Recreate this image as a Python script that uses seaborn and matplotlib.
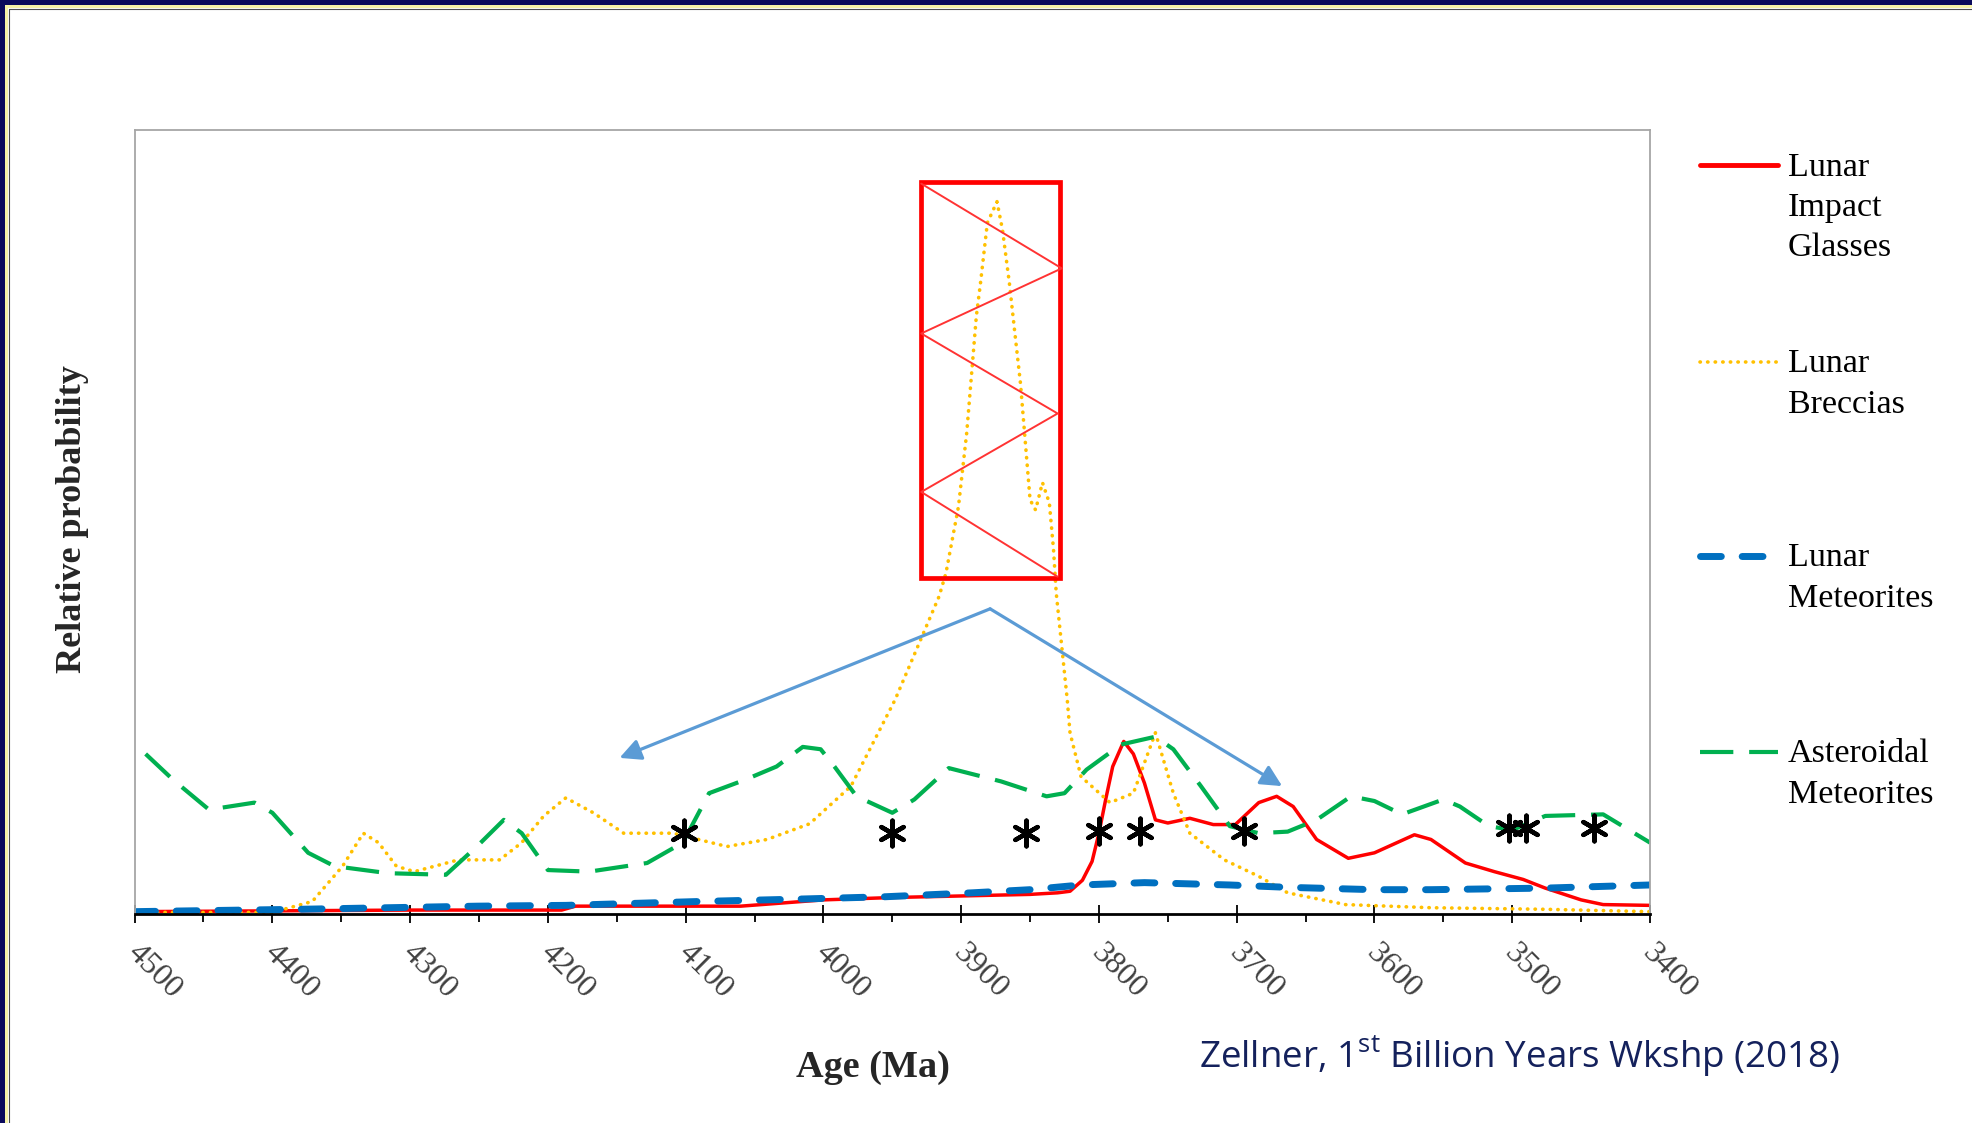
import seaborn as sns
import matplotlib.pyplot as plt
from matplotlib.lines import Line2D
from matplotlib.patches import Rectangle
from matplotlib.ticker import MultipleLocator
from matplotlib.transforms import ScaledTranslation

# ===== data: age (Ma) vs relative probability (arbitrary 0-100 scale) =====
glass_age = [4500, 4400, 4300, 4190, 4180, 4060, 4000, 3950, 3900, 3850, 3830, 3821,
             3812, 3805, 3800, 3795, 3790, 3782, 3775, 3767, 3759, 3750, 3734, 3717,
             3701, 3684, 3671, 3659, 3642, 3619, 3600, 3571, 3559, 3534, 3513, 3492,
             3476, 3450, 3434, 3400]
glass_prob = [0.3, 0.4, 0.5, 0.5, 1.0, 1.0, 1.8, 2.1, 2.3, 2.5, 2.7, 2.9,
              4.3, 6.7, 10.3, 14.7, 18.8, 22.0, 20.4, 16.7, 12.0, 11.6, 12.2, 11.4,
              11.4, 14.2, 15.0, 13.7, 9.5, 7.1, 7.8, 10.1, 9.5, 6.5, 5.4, 4.4,
              3.3, 1.8, 1.2, 1.1]

breccia_age = [4500, 4400, 4371, 4349, 4334, 4323, 4310, 4297, 4265, 4235, 4219, 4203,
               4187, 4167, 4145, 4109, 4070, 4041, 4010, 3980, 3948, 3916, 3911, 3902,
               3896, 3892, 3889, 3886, 3881, 3874, 3870, 3865, 3861, 3857, 3853, 3850,
               3846, 3841, 3836, 3833, 3831, 3823, 3821, 3813, 3792, 3775, 3759, 3746,
               3734, 3709, 3684, 3663, 3621, 3559, 3476, 3400]
breccia_prob = [0.2, 0.2, 1.6, 6.1, 10.3, 9.1, 6.1, 5.4, 6.9, 6.9, 9.1, 12.5,
                14.8, 12.9, 10.3, 10.3, 8.6, 9.5, 11.5, 16.3, 27.3, 40.5, 43.5, 51.9,
                61.3, 69.8, 76.2, 80.4, 88.1, 90.8, 87.2, 80.4, 74.0, 67.7, 59.2, 52.8,
                51.5, 55.0, 52.4, 46.5, 40.9, 27.3, 23.1, 17.5, 14.2, 15.4, 23.1, 15.4,
                10.3, 6.9, 4.8, 2.7, 1.2, 0.8, 0.6, 0.3]

lunmet_age = [4500, 4381, 4251, 4187, 4089, 4018, 3955, 3892, 3850, 3813, 3767, 3705,
              3663, 3600, 3559, 3476, 3400]
lunmet_prob = [0.3, 0.6, 1.0, 1.1, 1.6, 1.9, 2.2, 2.7, 3.1, 3.7, 4.0, 3.7,
               3.4, 3.1, 3.1, 3.3, 3.7]

astmet_age = [4492, 4472, 4446, 4413, 4400, 4374, 4355, 4316, 4274, 4251, 4232, 4219,
              4200, 4170, 4128, 4102, 4083, 4057, 4034, 4015, 4002, 3992, 3976, 3950,
              3934, 3909, 3871, 3838, 3825, 3809, 3784, 3759, 3746, 3726, 3705, 3684,
              3663, 3642, 3617, 3600, 3580, 3550, 3538, 3517, 3500, 3476, 3434, 3400]
astmet_prob = [20.4, 17.1, 13.3, 14.2, 12.9, 7.8, 6.1, 5.2, 5.0, 8.7, 12.0, 10.3,
               5.6, 5.4, 6.5, 9.1, 15.4, 17.1, 18.8, 21.3, 21.0, 18.8, 15.0, 12.9,
               14.6, 18.6, 16.9, 15.0, 15.4, 18.4, 21.6, 22.6, 21.0, 16.3, 11.2, 10.3,
               10.5, 12.0, 15.0, 14.4, 12.7, 14.6, 13.7, 11.2, 10.7, 12.5, 12.7, 9.1]

star_age = [4101, 3950, 3853, 3800, 3770, 3695, 3502, 3490, 3441]
star_prob = [10.3, 10.3, 10.3, 10.6, 10.6, 10.6, 10.9, 10.9, 10.9]

labels = ["Lunar\nImpact\nGlasses", "Lunar\nBreccias", "Lunar\nMeteorites",
          "Asteroidal\nMeteorites"]
tick_ages = [4500, 4400, 4300, 4200, 4100, 4000, 3900, 3800, 3700, 3600, 3500, 3400]
tick_labels = [str(a) for a in tick_ages]

# annotation overlay (box with zigzag, arrows)
box_age = [3929, 3828]
box_prob = [42.8, 93.3]
zig_age = [3929, 3827, 3929, 3830, 3929, 3830]
zig_prob = [93.1, 82.3, 74.0, 63.8, 53.8, 43.0]
arrow_from = (3879, 38.9)
arrow_to = [(4148, 19.9), (3667, 16.3)]

# ===== style =====
sns.set_style("white")
plt.rcParams['font.family'] = ['Liberation Serif', 'DejaVu Serif']
plt.rcParams['mathtext.fontset'] = 'custom'
plt.rcParams['mathtext.rm'] = 'Open Sans'

W, H = 1972, 1123
fig = plt.figure(figsize=(W / 100, H / 100), dpi=100)
ax = fig.add_axes([134.6 / W, 1 - 914 / H, (1650 - 134.6) / W, (914 - 129.5) / H])

styles = [
    dict(color="#ff0000", lw=2.5, linestyle="-"),
    dict(color="#ffc000", lw=2.6, linestyle=(0, (0.1, 2.0)), dash_capstyle="round"),
    dict(color="#0070c0", lw=5.0, linestyle=(0, (3, 3)), dash_capstyle="round"),
    dict(color="#00b050", lw=3.0, linestyle=(0, (8, 3.8))),
]
series = [(glass_age, glass_prob), (breccia_age, breccia_prob),
          (lunmet_age, lunmet_prob), (astmet_age, astmet_prob)]

for (xs, ys), st in zip(series, styles):
    sns.lineplot(x=xs, y=ys, ax=ax, estimator=None, sort=False, **st)

sns.scatterplot(x=star_age, y=star_prob, ax=ax, marker=(6, 2, 0), s=340,
                color="black", edgecolor="black", linewidth=3.2, zorder=5)

# red box with zigzag
ax.add_patch(Rectangle((box_age[0], box_prob[0]), box_age[1] - box_age[0],
                       box_prob[1] - box_prob[0], fill=False, ec="#ff0000",
                       lw=3.4, zorder=6))
ax.plot(zig_age, zig_prob, color="#ff3333", lw=1.4, zorder=6)

# blue arrows
for end in arrow_to:
    ax.annotate("", xy=end, xytext=arrow_from,
                arrowprops=dict(arrowstyle="-|>", color="#5b9bd5", lw=2.3,
                                mutation_scale=32, shrinkA=0, shrinkB=0), zorder=6)

ax.set_xlim(4500, 3400)
ax.set_ylim(0, 100)
ax.set_yticks([])
ax.set_xticks(tick_ages)
ax.set_xticklabels(tick_labels)
ax.xaxis.set_minor_locator(MultipleLocator(50))
ax.tick_params(axis="x", which="major", direction="inout", length=13, width=1.3,
               color="black", labelsize=23, labelcolor="#404040", pad=11, bottom=True)
ax.tick_params(axis="x", which="minor", direction="out", length=6, width=1.3,
               color="black", bottom=True)
shift = ScaledTranslation(5 / 72, 0, fig.dpi_scale_trans)
for lab in ax.get_xticklabels():
    lab.set_rotation(-45)
    lab.set_ha("left")
    lab.set_va("top")
    lab.set_rotation_mode("anchor")
    lab.set_transform(lab.get_transform() + shift)

for side in ["top", "right", "left"]:
    ax.spines[side].set_color("#a6a6a6")
    ax.spines[side].set_linewidth(1.3)
ax.spines["bottom"].set_color("black")
ax.spines["bottom"].set_linewidth(2.0)

ax.set_xlabel("Age (Ma)", fontsize=27.5, fontweight="bold", va="baseline")
ax.xaxis.set_label_coords(0.487, -0.208)
ax.set_ylabel("Relative probability", fontsize=26, fontweight="bold", va="center")
ax.yaxis.set_label_coords(-0.041, 0.503)

# legend drawn at right, handle aligned with first text line
leg_y = [165, 362, 556, 752]
for label, st, yy in zip(labels, styles, leg_y):
    fy = 1 - yy / H
    st_leg = dict(st)
    if st_leg["linestyle"] == "-":
        st_leg["lw"] = 3.5
    fig.add_artist(Line2D([1700 / W, 1778 / W], [fy, fy], transform=fig.transFigure,
                          **st_leg))
    fig.text(1788 / W, 1 - (yy - 13) / H, label, fontsize=24.5, va="top", ha="left",
             linespacing=1.42, color="black")

# slide border (top and left)
navy, pale = "#0b0b5c", "#f7f3a6"
fig.add_artist(Rectangle((0, 1 - 5 / H), 1, 5 / H, transform=fig.transFigure,
                         color=navy, lw=0))
fig.add_artist(Rectangle((0, 0), 5 / W, 1, transform=fig.transFigure,
                         color=navy, lw=0))
fig.add_artist(Rectangle((5 / W, 1 - 8 / H), 1, 3 / H, transform=fig.transFigure,
                         color=pale, lw=0))
fig.add_artist(Rectangle((5 / W, 0), 3 / W, 1 - 5 / H, transform=fig.transFigure,
                         color=pale, lw=0))
fig.add_artist(Line2D([8.5 / W, 1], [1 - 8.5 / H, 1 - 8.5 / H], transform=fig.transFigure,
                      color="#505050", lw=0.8))
fig.add_artist(Line2D([8.5 / W, 8.5 / W], [0, 1 - 8.5 / H], transform=fig.transFigure,
                      color="#505050", lw=0.8))

fig.text(1199 / W, 1 - 1068 / H, r"Zellner, 1$^{\rm st}$ Billion Years Wkshp (2018)",
         fontsize=26.5, color="#14215c", family="Open Sans", ha="left", va="baseline")

fig.savefig("out.png", dpi=100)
